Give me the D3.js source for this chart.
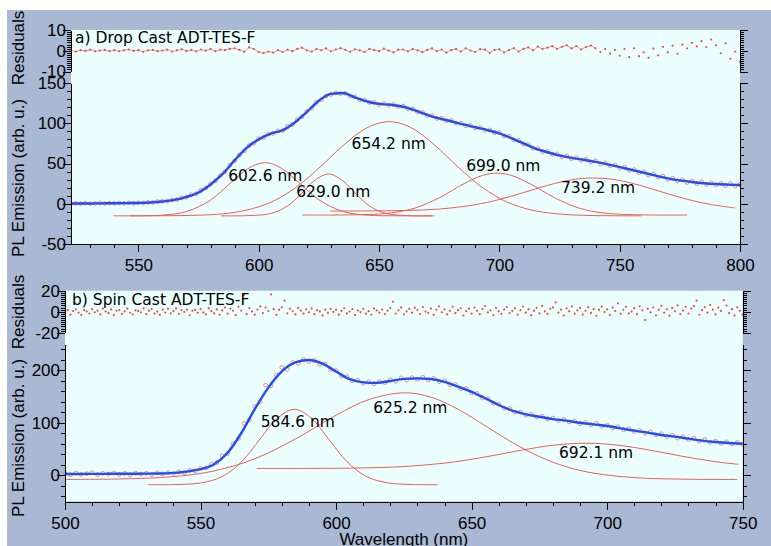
<!DOCTYPE html>
<html>
<head>
<meta charset="utf-8">
<script src="https://cdn.jsdelivr.net/npm/d3@7"></script>
<style>
  body { margin: 0; background: #fff; }
  svg { display: block; }
  .axis text { font-family: "Liberation Sans", Arial, sans-serif; font-size: 17px; fill: #000; }
  .axis line, .axis path { stroke: #000; shape-rendering: crispEdges; }
  .title { font-family: "Liberation Sans", Arial, sans-serif; font-size: 17px; fill: #000; }
  .note { font-family: "DejaVu Sans", Verdana, sans-serif; font-size: 15.5px; fill: #000; }
</style>
</head>
<body>
<div id="chart"></div>
<script>
// ---------- a) Drop Cast ADT-TES-F ----------
// fitted curve (blue), read every 5 nm
const dropFitNm = [522, 525, 530, 535, 540, 545, 550, 555, 560, 565, 570, 575, 580, 585, 590, 595, 600,
    605, 610, 615, 620, 625, 630, 635, 640, 645, 650, 655, 660, 665, 670, 675, 680, 685, 690, 695, 700,
    705, 710, 715, 720, 725, 730, 735, 740, 745, 750, 755, 760, 765, 770, 775, 780, 785, 790, 795, 800];
const dropFit = [0.3, 0.3, 0.4, 0.5, 0.6, 0.8, 1.0, 1.5, 2.8, 4.8, 8.5, 14, 24, 37, 54, 69.5, 80,
    87, 91.5, 101, 114, 128, 136.5, 137.5, 132, 127, 124, 123, 120.5, 116, 110.5, 106, 102.5, 98.5, 95, 91.5, 87.5,
    81.5, 75, 68.5, 64, 60, 57, 54.7, 52, 49, 45.5, 42, 38.5, 35, 31.5, 29, 27, 25.5, 24.5, 23.8, 23.2];

// measured spectrum and residuals, every 2 nm from 522 to 800
const dropNm = d3.range(522, 801, 2);
const dropData = [
    0.1, 0.6, 0.2, 0.7, 0.1, 0.5, 0.9, 0.2, 0.8, 0.4,
    1.0, 0.5, 1.1, 0.6, 1.3, 0.9, 1.7, 1.5, 2.6, 3.1,
    3.3, 4.8, 5.2, 7.4, 8.1, 11.2, 12.5, 16.6, 19.5, 24.7,
    28.4, 35.1, 39.8, 47.9, 53.4, 60.8, 65.7, 72.3, 75.1, 80.9,
    82.1, 86.4, 87.3, 90.5, 90.8, 96.1, 98.3, 104.4, 108.1, 114.9,
    118.8, 126.0, 129.0, 133.9, 135.8, 137.8, 136.6, 137.2, 133.5, 132.8,
    129.2, 128.9, 125.7, 126.1, 123.2, 124.5, 122.4, 123.3, 120.7, 121.4,
    117.9, 117.8, 114.0, 113.6, 109.7, 109.6, 106.0, 106.2, 103.0, 103.4,
    100.0, 100.2, 96.8, 97.3, 94.1, 94.5, 91.3, 91.6, 88.2, 88.4,
    84.2, 83.7, 79.2, 78.6, 74.1, 73.5, 68.8, 68.6, 64.8, 65.0,
    61.3, 61.9, 58.3, 59.3, 56.0, 57.2, 54.1, 55.3, 52.0, 53.2,
    49.5, 50.8, 47.1, 48.2, 44.2, 45.5, 41.4, 42.6, 38.6, 39.8,
    35.7, 37.0, 33.0, 34.4, 30.2, 31.8, 28.2, 29.9, 26.4, 28.3,
    25.0, 27.2, 24.0, 26.1, 23.2, 25.6, 22.5, 24.9, 21.9, 24.3];
const dropResid = [
    0.2, -0.4, 0.3, -0.1, 0.5, -0.3, 0.1, 0.4, -0.2, 0.3,
    -0.3, 0.2, 0.6, -0.1, 0.3, -0.5, 0.2, 0.4, -0.2, 0.1,
    0.5, -0.4, 0.2, 0.7, -0.2, 0.4, -0.3, 0.6, 0.1, 0.8,
    -0.2, 0.5, 0.3, 0.9, 1.2, 0.4, -0.5, 1.6, 0.8, -0.6,
    -1.1, -0.4, -0.9, 0.3, -0.6, 0.5, -0.2, 0.9, 1.5, 0.2,
    -0.4, 0.8, 0.2, 1.1, -0.3, 0.6, 1.3, 0.4, -0.5, 0.7,
    0.2, -0.6, 0.9, 0.3, -0.2, 1.0, 0.1, -0.8, 0.5, 0.6,
    -0.3, 0.8, 0.2, -0.7, 0.4, 1.1, -0.2, 0.6, -0.9, 0.3,
    0.9, -0.4, 1.2, 0.1, -0.6, 0.8, 0.5, -1.0, 0.4, 0.7,
    -0.8, 0.3, 1.3, -0.4, 0.9, 1.6, 0.2, 2.0, 0.8, 1.5,
    2.2, 0.9, 1.9, 2.6, 1.1, 2.3, 0.6, 1.8, 2.5, 1.2,
    -0.6, 0.8, -1.3, 0.4, -2.4, 0.9, -3.1, 1.2, -2.6, -0.8,
    -3.4, 1.0, -2.2, 1.9, -0.8, 2.4, -1.5, 3.0, 1.2, 3.8,
    2.1, 4.6, 1.8, 5.4, 2.6, -1.2, 3.6, -3.9, -0.4, -5.2];

// fitted peak components
const dropPeaks = ["602.6 nm", "629.0 nm", "654.2 nm", "699.0 nm", "739.2 nm"];
const dropPk1Nm = [546.5, 560, 570, 580, 590, 597, 602.6, 608, 615, 625, 635, 645, 658, 672];
const dropPk1 = [-15, -14.1, -9.7, 4.6, 30.2, 46.2, 51, 46.6, 30.8, 5.0, -9.6, -14.1, -15, -15];
const dropPk2Nm = [584.5, 595, 605, 612, 618, 623, 629, 635, 640, 646, 653, 663, 673];
const dropPk2 = [-15, -14.8, -12.1, -2.7, 13.4, 28.4, 37, 28.4, 13.4, -2.7, -12.1, -14.8, -15];
const dropPk3Nm = [539.6, 560, 575, 585, 595, 605, 615, 625, 635, 645, 654.2, 663, 673, 683, 693, 703, 713, 723, 735, 747, 759];
const dropPk3 = [-15, -14.9, -14.2, -12.5, -7.9, 1.9, 19.2, 44.2, 72.1, 94.4, 102, 95, 73.2, 45.2, 20.1, 2.4, -7.6, -12.3, -14.4, -14.9, -15];
const dropPk4Nm = [618, 630, 645, 655, 665, 675, 685, 693, 699, 705, 713, 723, 733, 743, 753, 765, 778];
const dropPk4 = [-14, -14, -13.4, -11.4, -5.3, 7.4, 24.4, 35.2, 38, 35.2, 24.4, 7.4, -5.3, -11.4, -13.4, -14, -14];
const dropPk5Nm = [629.5, 645, 660, 675, 690, 700, 710, 720, 730, 739.2, 748, 758, 768, 778, 788, 798];
const dropPk5 = [-9, -8.9, -8.4, -6.6, -1.2, 5.3, 13.8, 22.8, 29.7, 32, 29.9, 23.2, 14.2, 5.6, -1, -5.2];
// where each peak label sits (data units)
const dropLabelNm = [587.3, 615.6, 638.6, 686.2, 725.6];
const dropLabelY = [28.6, 9, 68.6, 40.7, 13.7];

// ---------- b) Spin Cast ADT-TES-F ----------
const spinFitNm = [500, 505, 510, 515, 520, 525, 530, 535, 540, 545, 550, 555, 560, 565, 570, 575, 580,
    585, 590, 595, 600, 605, 610, 615, 620, 625, 630, 635, 640, 645, 650, 655, 660, 665, 670, 675, 680,
    685, 690, 695, 700, 705, 710, 715, 720, 725, 730, 735, 740, 745, 750];
const spinFit = [2.5, 2.5, 2.6, 2.7, 2.8, 2.9, 3.0, 3.3, 4.6, 7, 11.5, 21, 43, 80, 126, 167, 198,
    215, 219.5, 212.5, 197.5, 183, 177, 176, 179.5, 183.5, 184.6, 183.3, 178, 168.7, 159, 146.6, 133.8, 123, 116, 111.5, 107,
    104, 100, 97, 93.8, 89.3, 84.9, 81.1, 76.7, 73.5, 69.7, 65.9, 63.3, 61.4, 60];

// measured spectrum every 2 nm from 500 to 750
const spinNm = d3.range(500, 751, 2);
const spinData = [
    3.8, 0.9, 4.2, 1.6, 3.1, 5.0, 1.2, 3.9, 2.0, 4.4,
    1.5, 3.6, 0.8, 4.1, 2.2, 3.9, 1.4, 4.6, 2.5, 5.1,
    3.2, 6.8, 5.0, 9.3, 8.1, 13.4, 14.0, 21.2, 24.0, 36.9,
    41.2, 60.3, 70.1, 98.5, 105.2, 131.0, 139.8, 171.5, 170.4, 190.8,
    205.3, 201.9, 214.6, 213.2, 220.4, 216.8, 218.9, 211.6, 212.0, 201.1,
    199.3, 189.5, 187.6, 179.9, 181.0, 175.2, 178.1, 174.3, 178.5, 176.4,
    182.3, 179.0, 185.4, 181.2, 186.1, 182.8, 186.9, 181.5, 184.4, 178.2,
    180.2, 172.1, 172.9, 164.6, 165.1, 157.3, 156.0, 147.2, 145.9, 137.1,
    135.4, 127.6, 127.1, 119.8, 120.5, 114.3, 116.0, 110.7, 112.5, 107.2,
    108.9, 103.9, 106.2, 101.5, 103.4, 98.2, 100.7, 95.9, 99.1, 93.4,
    95.6, 90.1, 92.3, 86.5, 89.0, 83.2, 85.3, 80.0, 82.6, 76.9,
    78.9, 73.6, 76.2, 70.8, 73.4, 67.9, 70.5, 64.9, 67.8, 62.6,
    65.1, 60.8, 63.7, 59.4, 62.5, 58.6];

// residuals every 1 nm from 500 to 750
const spinResNm = d3.range(500, 751, 1);
const spinResid = [
    -1.2, 1.5, -2.8, 0.6, 2.1, -0.9, -3.1, 1.8, 0.3, -1.7,
    2.4, -0.5, 1.1, -2.6, 3.0, 0.2, -1.4, 2.2, -3.3, 0.9,
    1.6, -2.1, 0.4, 2.9, -1.0, -2.7, 1.3, 0.7, -0.6, 3.2,
    -2.4, 1.0, 2.5, -1.8, 0.1, -3.0, 1.9, -0.8, 2.7, -1.5,
    0.6, 3.1, -2.2, 1.4, -0.3, 2.0, -3.4, 0.8, 1.7, -1.1,
    2.6, -0.7, -2.5, 3.4, 0.5, -1.6, 2.2, -2.9, 1.2, 4.0,
    -1.9, 2.8, 0.9, -3.2, 4.6, 1.1, 16.0, -2.4, 3.5, 0.2,
    -2.8, 2.1, 5.0, -1.3, 3.9, 0.6, 16.5, 2.4, -3.0, 1.7,
    4.2, 10.5, -1.5, 2.9, 0.4, -2.6, 3.6, 1.0, -1.9, 2.3,
    -0.6, 3.1, -2.4, 1.5, 0.3, -3.5, 2.0, -1.2, 2.8, -0.1,
    1.9, -2.8, 0.7, 3.3, -1.6, 0.2, 2.5, -3.1, 1.1, -0.4,
    2.7, -1.9, 0.5, -2.9, 3.0, 1.2, -0.8, 2.1, -2.3, 0.9,
    3.5, 9.5, -1.7, 1.4, 4.1, -2.5, 0.3, 2.6, -0.9, 3.8,
    1.6, -2.2, 4.4, 0.2, -1.1, 3.0, -3.0, 1.9, 5.2, -0.5,
    2.3, -2.6, 0.8, 4.7, -1.4, 1.5, 3.3, -3.7, 0.6, 2.9,
    -1.8, 4.0, 0.9, -2.4, 2.6, 5.4, -0.7, 1.3, -3.2, 3.6,
    0.4, -2.0, 2.2, 4.5, -1.3, 0.8, 3.1, -2.8, 1.6, 4.9,
    -0.9, 2.4, -3.3, 1.0, 3.7, -1.6, 5.5, 0.3, -2.1, 2.8,
    4.1, 8.9, -0.8, 2.0, -3.6, 3.2, 0.5, 5.0, -1.9, 1.4,
    3.6, -2.7, 0.9, 4.3, -1.2, 2.5, -3.9, 1.7, 4.8, -0.4,
    2.2, -3.1, 3.9, 0.6, 8.0, -2.0, 1.8, 4.6, -1.5, 0.1,
    3.4, -2.4, 5.1, 1.3, -7.9, 2.7, -0.6, 4.0, -3.4, 1.9,
    5.6, -1.0, 2.3, -3.8, 3.6, 0.4, 6.1, -2.2, 1.1, 4.7,
    -1.7, 2.9, 5.3, 10.5, -2.9, 1.5, 4.4, -0.8, 6.3, 2.0,
    -2.6, 3.8, 0.7, 11.0, 5.9, -1.4, 2.4, -3.5, 4.2, 0.9,
    -2.8];

const spinPeaks = ["584.6 nm", "625.2 nm", "692.1 nm"];
const spinPk1Nm = [530.7, 540, 550, 558, 565, 572, 578, 584.6, 591, 597, 604, 611, 619, 628, 637.5];
const spinPk1 = [-18, -17.7, -14.7, -2.5, 24.9, 69.2, 107.2, 125.6, 108.2, 70.6, 26, -1.9, -14.5, -17.6, -18];
const spinPk2Nm = [500, 520, 540, 555, 570, 585, 600, 612, 625.2, 635, 645, 655, 665, 675, 685, 695, 710, 730, 748];
const spinPk2 = [-7.9, -7.1, -2.6, 8.2, 31.4, 69.2, 114.4, 144, 157, 148.7, 125.7, 94.4, 62.4, 35.5, 16.1, 4, -4.5, -7.6, -8];
const spinPk3Nm = [570.7, 590, 610, 625, 640, 655, 668, 680, 692.1, 704, 716, 728, 740, 748.4];
const spinPk3 = [13, 13.1, 14, 16.6, 23.1, 34.8, 47.4, 57.1, 61, 57.3, 47.6, 35.9, 25.8, 20.8];
const spinLabelNm = [572.2, 613.7, 682.2];
const spinLabelY = [91.3, 119.2, 32.3];

// ---------- drawing ----------
const W = 771, H = 546;

const svg = d3.select("#chart").append("svg")
    .attr("width", W)
    .attr("height", H);

// grey page behind both graphs
svg.append("rect")
    .attr("x", 7).attr("y", 10)
    .attr("width", W - 7).attr("height", H - 10)
    .attr("fill", "#a9b9d3");

class FitPanel {
    constructor(svg, cfg) {
        this.svg = svg;
        this.cfg = cfg;
        this.initGraph();
    }

    initGraph() {
        const vis = this;
        const c = vis.cfg;

        vis.x = d3.scaleLinear().domain(c.xDomain).range([c.left, c.right]);
        vis.yRes = d3.scaleLinear().domain(c.resDomain).range([c.resBottom, c.resTop]);
        vis.y = d3.scaleLinear().domain(c.mainDomain).range([c.mainBottom, c.mainTop]);

        // plot area
        vis.svg.append("rect")
            .attr("x", c.left).attr("y", c.resTop)
            .attr("width", c.right - c.left)
            .attr("height", c.mainBottom - c.resTop)
            .attr("fill", "#ebffff");

        // peak components
        const compLine = d3.line()
            .x(d => vis.x(d[0]))
            .y(d => vis.y(d[1]))
            .curve(d3.curveCatmullRom);

        vis.svg.append("g")
            .selectAll("path")
            .data(c.components)
            .join("path")
            .attr("d", d => compLine(d3.zip(d[0], d[1])))
            .attr("fill", "none")
            .attr("stroke", "#ef5d55")
            .attr("stroke-width", 1);

        // measured points
        vis.svg.append("g")
            .selectAll("circle")
            .data(d3.zip(c.dataNm, c.data))
            .join("circle")
            .attr("cx", d => vis.x(d[0]))
            .attr("cy", d => vis.y(d[1]))
            .attr("r", 1.9)
            .attr("fill", "none")
            .attr("stroke", "#f27c78")
            .attr("stroke-width", 0.9);

        // fit
        const fitLine = d3.line()
            .x(d => vis.x(d[0]))
            .y(d => vis.y(d[1]))
            .curve(d3.curveMonotoneX);

        vis.svg.append("path")
            .attr("d", fitLine(d3.zip(c.fitNm, c.fit)))
            .attr("fill", "none")
            .attr("stroke", "#1f4ef2")
            .attr("stroke-width", 2.4);

        // residuals: joined while the noise is small, loose dots after that
        const res = d3.zip(c.resNm, c.resid);
        if (c.resLineTo) {
            vis.svg.append("path")
                .attr("d", d3.line()
                    .defined(d => d[0] <= c.resLineTo)
                    .x(d => vis.x(d[0]))
                    .y(d => vis.yRes(d[1]))(res))
                .attr("fill", "none")
                .attr("stroke", "#ef4a44")
                .attr("stroke-width", 0.7)
                .attr("stroke-opacity", 0.85);
        }
        vis.svg.append("g")
            .selectAll("circle")
            .data(res)
            .join("circle")
            .attr("cx", d => vis.x(d[0]))
            .attr("cy", d => vis.yRes(d[1]))
            .attr("r", 1.1)
            .attr("fill", "#ef4a44");

        // axes
        vis.yAxis(vis.yRes, c.resMajor, c.resMinor);
        vis.yAxis(vis.y, c.mainMajor, c.mainMinor);
        vis.xAxis();

        // texts
        vis.svg.append("text")
            .attr("class", "note")
            .attr("x", c.titleX).attr("y", c.titleY)
            .text(c.title);

        vis.svg.append("g")
            .selectAll("text")
            .data(c.peaks)
            .join("text")
            .attr("class", "note")
            .attr("x", (d, i) => vis.x(c.labelNm[i]))
            .attr("y", (d, i) => vis.y(c.labelY[i]))
            .text(d => d);

        vis.svg.append("text")
            .attr("class", "title")
            .attr("text-anchor", "middle")
            .attr("transform", `translate(24,${c.resTitleY}) rotate(-90)`)
            .text("Residuals");

        vis.svg.append("text")
            .attr("class", "title")
            .attr("text-anchor", "middle")
            .attr("transform", `translate(24,${c.mainTitleY}) rotate(-90)`)
            .text("PL Emission (arb. u.)");

        if (c.xTitle) {
            vis.svg.append("text")
                .attr("class", "title")
                .attr("text-anchor", "middle")
                .attr("x", (c.left + c.right) / 2)
                .attr("y", c.xTitleY)
                .text(c.xTitle);
        }
    }

    yAxis(scale, major, minor) {
        const vis = this;
        const c = vis.cfg;

        [[d3.axisLeft, c.left, true], [d3.axisRight, c.right, false]].forEach(([make, pos, labelled]) => {
            vis.svg.append("g")
                .attr("class", "axis")
                .attr("transform", `translate(${pos},0)`)
                .call(make(scale).tickValues(minor).tickSize(4).tickFormat(""))
                .call(g => g.select(".domain").remove());

            vis.svg.append("g")
                .attr("class", "axis")
                .attr("transform", `translate(${pos},0)`)
                .call(make(scale)
                    .tickValues(major)
                    .tickSize(8)
                    .tickSizeOuter(0)
                    .tickPadding(-3)
                    .tickFormat(labelled ? d => String(d) : ""));
        });
    }

    xAxis() {
        const vis = this;
        const c = vis.cfg;

        vis.svg.append("g")
            .attr("class", "axis")
            .attr("transform", `translate(0,${c.mainBottom})`)
            .call(d3.axisBottom(vis.x).tickValues(c.xMinor).tickSize(4).tickFormat(""))
            .call(g => g.select(".domain").remove());

        vis.svg.append("g")
            .attr("class", "axis")
            .attr("transform", `translate(0,${c.mainBottom})`)
            .call(d3.axisBottom(vis.x)
                .tickValues(c.xMajor)
                .tickSize(8)
                .tickSizeOuter(0)
                .tickPadding(7)
                .tickFormat(d => String(d)));
    }
}

new FitPanel(svg, {
    title: "a) Drop Cast ADT-TES-F", titleX: 75, titleY: 43,
    left: 71, right: 740,
    resTop: 30, resBottom: 71.5, mainTop: 83, mainBottom: 244,
    xDomain: [522, 800], resDomain: [-10, 10], mainDomain: [-50, 150],
    xMajor: [550, 600, 650, 700, 750, 800], xMinor: d3.range(530, 801, 10),
    resMajor: [-10, 0, 10], resMinor: d3.range(-10, 11, 1),
    mainMajor: [-50, 0, 50, 100, 150], mainMinor: d3.range(-50, 151, 10),
    fitNm: dropFitNm, fit: dropFit,
    dataNm: dropNm, data: dropData,
    resNm: dropNm, resid: dropResid, resLineTo: 740,
    components: [[dropPk1Nm, dropPk1], [dropPk2Nm, dropPk2], [dropPk3Nm, dropPk3], [dropPk4Nm, dropPk4], [dropPk5Nm, dropPk5]],
    peaks: dropPeaks, labelNm: dropLabelNm, labelY: dropLabelY,
    resTitleY: 48, mainTitleY: 178
});

new FitPanel(svg, {
    title: "b) Spin Cast ADT-TES-F", titleX: 72, titleY: 305,
    left: 65, right: 742.7,
    resTop: 290.7, resBottom: 332.7, mainTop: 344, mainBottom: 501.5,
    xDomain: [500, 750], resDomain: [-20, 20], mainDomain: [-50, 250],
    xMajor: [500, 550, 600, 650, 700, 750], xMinor: d3.range(500, 751, 10),
    resMajor: [-20, 0, 20], resMinor: d3.range(-20, 21, 2),
    mainMajor: [0, 100, 200], mainMinor: d3.range(-40, 241, 20),
    fitNm: spinFitNm, fit: spinFit,
    dataNm: spinNm, data: spinData,
    resNm: spinResNm, resid: spinResid, resLineTo: null,
    components: [[spinPk1Nm, spinPk1], [spinPk2Nm, spinPk2], [spinPk3Nm, spinPk3]],
    peaks: spinPeaks, labelNm: spinLabelNm, labelY: spinLabelY,
    resTitleY: 312, mainTitleY: 438,
    xTitle: "Wavelength (nm)", xTitleY: 545
});
</script>
</body>
</html>
